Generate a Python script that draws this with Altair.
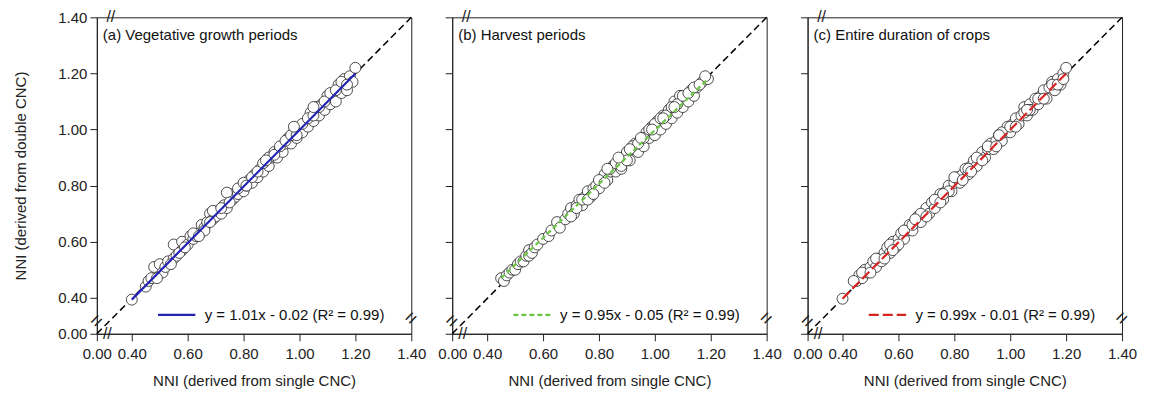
import altair as alt
import pandas as pd

# ---- data ----
a_x = [0.40,0.45,0.46,0.47,0.48,0.50,0.51,0.52,0.53,0.55,0.55,0.56,0.58,0.58,0.60,0.61,0.62,0.63,0.64,0.65,
       0.66,0.67,0.68,0.69,0.70,0.71,0.72,0.73,0.74,0.75,0.76,0.77,0.78,0.79,0.80,0.81,0.82,0.83,0.84,0.85,
       0.86,0.87,0.88,0.89,0.90,0.91,0.92,0.93,0.94,0.95,0.96,0.97,0.98,0.99,1.00,1.01,1.02,1.03,1.04,1.05,
       1.06,1.07,1.08,1.09,1.10,1.11,1.12,1.13,1.14,1.15,1.16,1.17,1.18,1.19,1.20,0.69,0.74,
       0.49,0.54,0.57,0.59,0.62,0.66,0.68,0.72,0.75,0.78,0.80,0.83,0.85,0.87,0.89,0.91,0.93,0.95,0.97,0.99,
       1.01,1.03,1.05,1.07,1.09,1.11,1.13,1.15,1.17,1.05,0.98,0.88,0.81,0.64]
a_y = [0.38,0.44,0.46,0.47,0.51,0.52,0.49,0.51,0.53,0.59,0.54,0.55,0.57,0.60,0.59,0.62,0.61,0.62,0.63,0.66,
       0.65,0.67,0.70,0.68,0.69,0.71,0.70,0.73,0.72,0.77,0.75,0.76,0.77,0.79,0.78,0.80,0.82,0.81,0.84,0.83,
       0.86,0.85,0.88,0.87,0.90,0.92,0.90,0.93,0.92,0.95,0.97,0.95,0.99,0.97,1.00,0.99,1.02,1.01,1.06,1.03,
       1.08,1.05,1.09,1.07,1.12,1.09,1.12,1.10,1.16,1.13,1.18,1.14,1.19,1.17,1.22,0.71,0.775,
       0.47,0.52,0.56,0.58,0.63,0.64,0.67,0.72,0.74,0.79,0.81,0.83,0.85,0.88,0.90,0.91,0.94,0.96,0.98,0.98,
       1.02,1.04,1.05,1.08,1.10,1.13,1.14,1.17,1.16,1.08,1.01,0.89,0.80,0.62]

b_x = [0.45,0.46,0.47,0.48,0.49,0.50,0.51,0.52,0.53,0.54,0.55,0.55,0.56,0.57,0.58,0.60,0.62,0.63,0.65,0.66,
       0.68,0.69,0.70,0.71,0.72,0.73,0.74,0.75,0.76,0.77,0.78,0.79,0.80,0.81,0.82,0.83,0.84,0.85,0.86,0.87,
       0.88,0.89,0.90,0.91,0.92,0.93,0.94,0.95,0.96,0.97,0.98,0.99,1.00,1.01,1.02,1.03,1.04,1.05,1.06,1.07,
       1.08,1.09,1.10,1.11,1.12,1.13,1.14,1.15,1.17,1.19,
       0.70,0.72,0.74,0.76,0.78,0.80,0.82,0.84,0.86,0.88,0.90,0.92,0.94,0.96,0.98,1.00,1.02,1.04,1.06,1.08,
       1.10,1.12,1.14,1.16,1.18,0.83,0.87,0.91,0.95,0.99,1.03,1.07]
b_y = [0.47,0.46,0.48,0.49,0.50,0.50,0.52,0.53,0.53,0.55,0.57,0.55,0.56,0.58,0.59,0.61,0.62,0.64,0.67,0.65,
       0.68,0.70,0.72,0.70,0.73,0.75,0.73,0.76,0.78,0.76,0.79,0.80,0.79,0.82,0.84,0.82,0.85,0.87,0.85,0.88,
       0.86,0.90,0.92,0.89,0.93,0.95,0.92,0.96,0.94,0.99,0.97,1.01,0.98,1.03,1.00,1.05,1.02,1.07,1.04,1.10,
       1.06,1.12,1.08,1.11,1.10,1.14,1.12,1.15,1.17,1.18,
       0.69,0.72,0.75,0.75,0.77,0.82,0.81,0.86,0.88,0.87,0.89,0.94,0.95,0.97,1.00,1.02,1.04,1.05,1.08,1.09,
       1.12,1.13,1.15,1.16,1.19,0.86,0.90,0.93,0.97,1.00,1.04,1.08]

c_x = [0.40,0.45,0.46,0.47,0.48,0.49,0.50,0.51,0.52,0.53,0.54,0.55,0.56,0.57,0.58,0.59,0.60,0.61,0.62,0.63,
       0.64,0.65,0.66,0.67,0.68,0.69,0.70,0.71,0.72,0.73,0.74,0.75,0.76,0.77,0.78,0.79,0.80,0.81,0.82,0.83,
       0.84,0.85,0.86,0.87,0.88,0.89,0.90,0.91,0.92,0.93,0.94,0.95,0.96,0.97,0.98,0.99,1.00,1.01,1.02,1.03,
       1.04,1.05,1.06,1.07,1.08,1.09,1.10,1.11,1.12,1.13,1.14,1.15,1.16,1.17,1.18,1.19,1.20,
       0.44,0.47,0.50,0.52,0.55,0.57,0.60,0.62,0.65,0.68,0.70,0.73,0.75,0.78,0.80,0.83,0.85,0.88,0.90,0.92,
       0.95,0.97,1.00,1.02,1.05,1.07,1.10,1.12,1.15,1.17,1.19,0.58,0.66,0.76,0.86,0.96,1.06]
c_y = [0.39,0.46,0.48,0.47,0.50,0.49,0.51,0.53,0.51,0.54,0.53,0.56,0.58,0.56,0.60,0.58,0.61,0.63,0.61,0.64,
       0.66,0.64,0.67,0.69,0.67,0.70,0.72,0.70,0.74,0.72,0.75,0.77,0.75,0.78,0.80,0.78,0.81,0.83,0.81,0.84,
       0.86,0.84,0.87,0.89,0.87,0.90,0.92,0.90,0.93,0.95,0.93,0.96,0.98,0.96,0.99,1.01,0.99,1.02,1.04,1.02,
       1.05,1.08,1.05,1.09,1.07,1.11,1.09,1.12,1.14,1.11,1.15,1.17,1.14,1.18,1.16,1.20,1.22,
       0.46,0.49,0.49,0.54,0.54,0.59,0.59,0.64,0.66,0.70,0.69,0.75,0.74,0.78,0.83,0.82,0.86,0.90,0.89,0.94,
       0.94,0.99,1.01,1.01,1.06,1.07,1.11,1.11,1.16,1.16,1.18,0.57,0.68,0.77,0.85,0.98,1.07]

# fitted lines (end points as drawn)
a_fit_x = [0.40, 1.20]; a_fit_y = [0.38, 1.20]
b_fit_x = [0.45, 1.19]; b_fit_y = [0.47, 1.18]
c_fit_x = [0.40, 1.20]; c_fit_y = [0.39, 1.20]

one_to_one = [0.0, 1.4]
tick_vals = [0.0, 0.4, 0.6, 0.8, 1.0, 1.2, 1.4]

titles = ["(a) Vegetative growth periods", "(b) Harvest periods", "(c) Entire duration of crops"]
equations = ["y = 1.01x - 0.02 (R² = 0.99)", "y = 0.95x - 0.05 (R² = 0.99)", "y = 0.99x - 0.01 (R² = 0.99)"]
colors = ["#2323b4", "#6cc644", "#d92323"]
dashes = [None, [5, 3], [10, 4]]

FONT = "Liberation Sans"
W, H = 315, 317


def xs():
    return alt.Scale(domain=[0, 0.4, 1.4], range=[0, 35, W], zero=False, nice=False)


def ys():
    return alt.Scale(domain=[0, 0.4, 1.4], range=[H, H - 36, 0], zero=False, nice=False)


def panel(px, py, fx, fy, title, eq, color, dash, show_y):
    xax = alt.Axis(values=tick_vals, format=".2f", title="NNI (derived from single CNC)",
                   labelOverlap=False, labelFlush=False, grid=False, labelPadding=6, titlePadding=12)
    if show_y:
        yax = alt.Axis(values=tick_vals, format=".2f", title="NNI (derived from double CNC)",
                       labelOverlap=False, labelFlush=False, grid=False, titlePadding=29)
    else:
        yax = alt.Axis(values=tick_vals, labels=False, title=None, grid=False)

    diag = alt.Chart(pd.DataFrame({"x": one_to_one, "y": one_to_one})).mark_line(
        color="black", strokeWidth=1.5, strokeDash=[7, 4]
    ).encode(x=alt.X("x:Q", scale=xs(), axis=xax), y=alt.Y("y:Q", scale=ys(), axis=yax))

    pts = alt.Chart(pd.DataFrame({"x": px, "y": py})).mark_point(
        shape="circle", filled=False, fill="white", fillOpacity=1, stroke="#222", strokeWidth=0.8,
        size=120, opacity=1
    ).encode(x=alt.X("x:Q", scale=xs()), y=alt.Y("y:Q", scale=ys()))

    leg_kw = dict(title=None, orient="none", legendX=60, legendY=278, symbolType="stroke",
                  symbolSize=1400, symbolStrokeWidth=2.2, labelFontSize=15, labelFont=FONT,
                  labelColor="#111", labelOffset=8, padding=0, labelLimit=400)
    line_kw = dict(strokeWidth=2.2)
    if dash is not None:
        leg_kw["symbolDash"] = dash
        line_kw["strokeDash"] = dash
    fit = alt.Chart(pd.DataFrame({"x": fx, "y": fy, "eq": [eq] * len(fx)})).mark_line(**line_kw).encode(
        x=alt.X("x:Q", scale=xs()), y=alt.Y("y:Q", scale=ys()),
        color=alt.Color("eq:N", scale=alt.Scale(domain=[eq], range=[color]), legend=alt.Legend(**leg_kw)))

    ttl = alt.Chart(pd.DataFrame({"t": [title]})).mark_text(
        align="left", baseline="middle", fontSize=15, font=FONT, color="#111"
    ).encode(x=alt.value(6), y=alt.value(18), text="t:N")

    brk = alt.Chart(pd.DataFrame({
        "x": [0.16, 0.12], "y": [1.4, 0.0], "s": ["//", "//"]
    })).mark_text(fontSize=16, font=FONT, color="#222", baseline="middle", align="center").encode(
        x=alt.X("x:Q", scale=xs()), y=alt.Y("y:Q", scale=ys()), text="s:N")
    brk2 = alt.Chart(pd.DataFrame({
        "x": [0.0, 1.4], "y": [0.14, 0.17], "s": ["=", "="]
    })).mark_text(fontSize=20, font=FONT, color="#222", baseline="middle", align="center", angle=315).encode(
        x=alt.X("x:Q", scale=xs()), y=alt.Y("y:Q", scale=ys()), text="s:N")

    return alt.layer(diag, pts, fit, ttl, brk, brk2).properties(width=W, height=H)


pa = panel(a_x, a_y, a_fit_x, a_fit_y, titles[0], equations[0], colors[0], dashes[0], True)
pb = panel(b_x, b_y, b_fit_x, b_fit_y, titles[1], equations[1], colors[1], dashes[1], False)
pc = panel(c_x, c_y, c_fit_x, c_fit_y, titles[2], equations[2], colors[2], dashes[2], False)

chart = alt.hconcat(pa, pb, pc, spacing=41, bounds="flush").resolve_scale(
    color="independent", x="independent", y="independent"
).resolve_legend(color="independent").properties(
    padding={"left": 5, "top": 0, "right": 5, "bottom": 0}
).configure_view(stroke="#222", strokeWidth=1).configure_axis(
    labelFont=FONT, titleFont=FONT, labelFontSize=15, titleFontSize=15, titleFontWeight="normal",
    labelColor="#222", titleColor="#222", domainColor="#222", tickColor="#222", tickSize=7,
    labelPadding=3, domainWidth=1
)

chart.save("out.html", embed_options={"renderer": "svg", "actions": False})
